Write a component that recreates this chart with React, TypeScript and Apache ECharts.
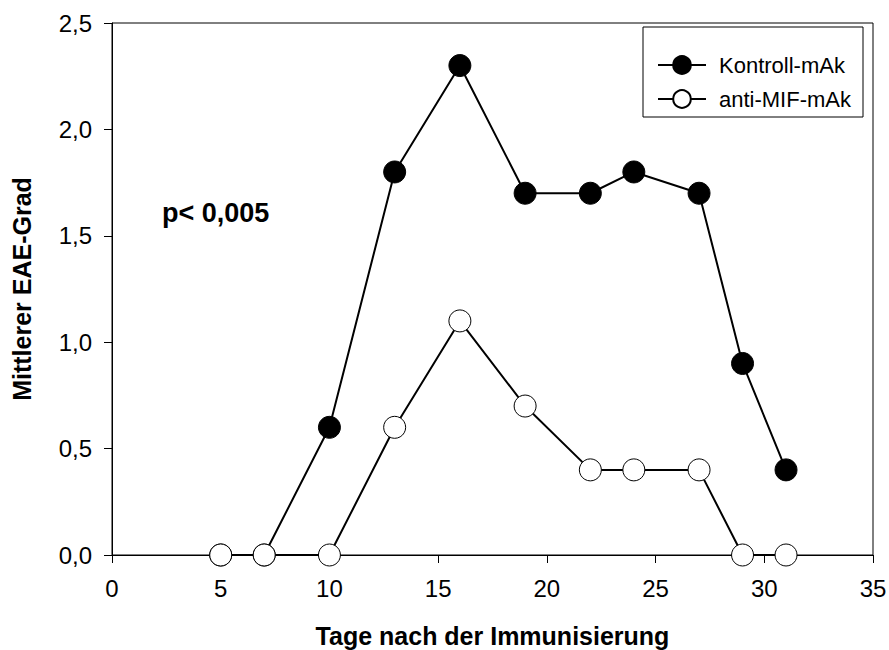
import React, { useEffect, useRef } from "react";
import * as echarts from "echarts";

const days = [5, 7, 10, 13, 16, 19, 22, 24, 27, 29, 31];
const kontroll = [0, 0, 0.6, 1.8, 2.3, 1.7, 1.7, 1.8, 1.7, 0.9, 0.4];
const antiMif = [0, 0, 0, 0.6, 1.1, 0.7, 0.4, 0.4, 0.4, 0, 0];
const seriesNames = ["Kontroll-mAk", "anti-MIF-mAk"];
const xTitle = "Tage nach der Immunisierung";
const yTitle = "Mittlerer EAE-Grad";
const annotation = "p< 0,005";

const FONT = "Liberation Sans, Arial, sans-serif";

export default function App() {
  const ref = useRef<HTMLDivElement>(null);
  useEffect(() => {
    if (!ref.current) return;
    const chart = echarts.init(ref.current, null, { renderer: "svg" });
    const pair = (vals: number[]) => days.map((d, i) => [d, vals[i]]);
    chart.setOption({
      animation: false,
      backgroundColor: "#fff",
      textStyle: { fontFamily: FONT },
      grid: {
        left: 112,
        right: 16,
        top: 23,
        bottom: 95,
        show: true,
        borderColor: "#000",
        borderWidth: 1,
        containLabel: false,
        outerBoundsMode: "none",
      },
      xAxis: {
        type: "value",
        min: 0,
        max: 35,
        interval: 5,
        name: xTitle,
        nameLocation: "middle",
        nameGap: 68,
        nameTextStyle: { fontSize: 25, fontWeight: "bold", color: "#000", fontFamily: FONT },
        axisLine: { show: true, onZero: false, lineStyle: { color: "#000", width: 1 } },
        axisTick: { show: true, inside: false, length: 8, lineStyle: { color: "#000" } },
        axisLabel: { fontSize: 24, color: "#000", margin: 21, fontFamily: FONT },
        splitLine: { show: false },
      },
      yAxis: {
        type: "value",
        min: 0,
        max: 2.5,
        interval: 0.5,
        name: yTitle,
        nameLocation: "middle",
        nameRotate: 90,
        nameGap: 78,
        nameTextStyle: { fontSize: 25, fontWeight: "bold", color: "#000", fontFamily: FONT },
        axisLine: { show: true, lineStyle: { color: "#000", width: 1 } },
        axisTick: { show: true, inside: false, length: 8, lineStyle: { color: "#000" } },
        axisLabel: {
          fontSize: 24,
          color: "#000",
          margin: 20,
          fontFamily: FONT,
          formatter: (v: number) => v.toFixed(1).replace(".", ","),
        },
        splitLine: { show: false },
      },
      legend: {
        left: 657,
        top: 54,
        padding: 0,
        orient: "vertical",
        itemGap: 12,
        itemWidth: 48,
        itemHeight: 22,
        textStyle: { fontSize: 22, color: "#000", fontFamily: FONT, padding: [0, 0, 0, 8] },
        data: seriesNames,
      },
      graphic: [
        {
          type: "rect",
          shape: { x: 643, y: 27, width: 220, height: 90 },
          style: { fill: "none", stroke: "#000", lineWidth: 1 },
          z: 1,
        },
        {
          type: "text",
          x: 162,
          y: 213,
          style: {
            text: annotation,
            fontSize: 27,
            fontWeight: "bold",
            fill: "#000",
            fontFamily: FONT,
            verticalAlign: "middle",
          },
        },
      ],
      series: [
        {
          name: seriesNames[0],
          type: "line",
          data: pair(kontroll),
          symbol: "circle",
          symbolSize: 22,
          lineStyle: { color: "#000", width: 2 },
          itemStyle: { color: "#000", borderColor: "#000", borderWidth: 1 },
          z: 2,
        },
        {
          name: seriesNames[1],
          type: "line",
          data: pair(antiMif),
          symbol: "circle",
          symbolSize: 22,
          lineStyle: { color: "#000", width: 2 },
          itemStyle: { color: "#fff", borderColor: "#000", borderWidth: 1 },
          z: 3,
        },
      ],
    });
    return () => chart.dispose();
  }, []);
  return (
    <div
      ref={ref}
      style={{ position: "absolute", left: 0, top: 0, width: 889, height: 650 }}
    />
  );
}
